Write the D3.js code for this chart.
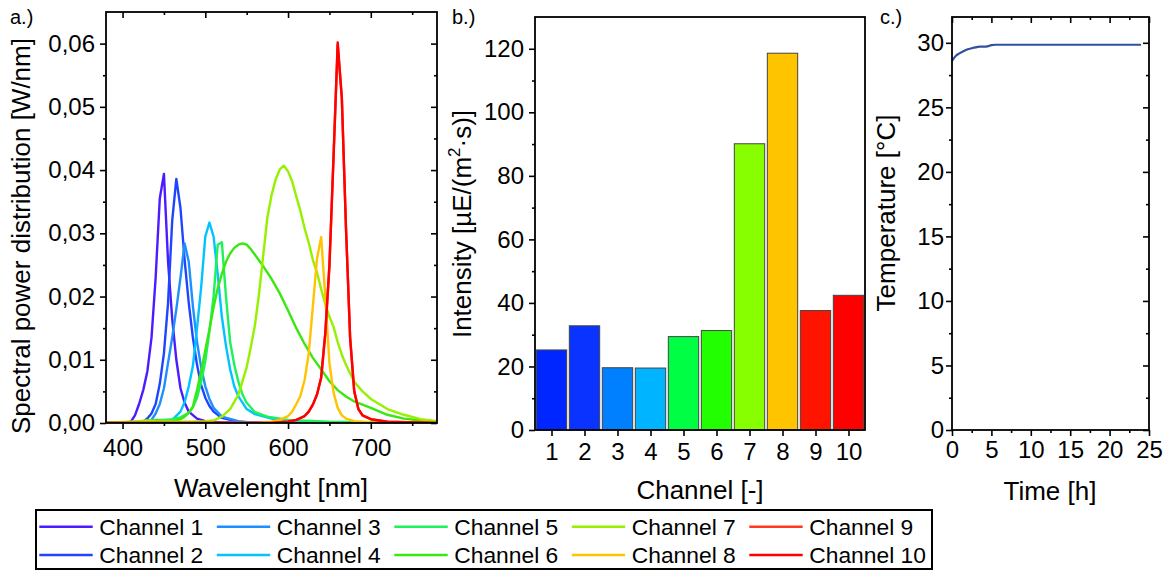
<!DOCTYPE html>
<html><head><meta charset="utf-8">
<script src="https://cdn.jsdelivr.net/npm/d3@7"></script>
<style>body{margin:0;background:#fff}</style>
</head><body><svg id="c" width="1171" height="572"></svg>
<script>
// ---------- DATA ----------
const channels = ["Channel 1","Channel 2","Channel 3","Channel 4","Channel 5","Channel 6","Channel 7","Channel 8","Channel 9","Channel 10"];
const lineColors = ["#4b1cff","#1f45ff","#1e8fff","#00c3ff","#1ef25a","#3ae810","#96f000","#ffc300","#ff3a1e","#ff0000"];
const barColors = ["#0026ff","#0a33ff","#0080ff","#00b4ff","#00ff44","#22ff00","#88ff00","#ffc400","#ff1400","#ff0000"];

// spectral power distribution [nm, W/nm]
const ch1Spd = [[380,0],[405,0],[410,0.0002],[415,0.0012],[420,0.003],[425,0.0052],[430,0.0082],[435,0.0135],[440,0.023],[445,0.0355],[450,0.0394],[455,0.0255],[460,0.0165],[465,0.01],[470,0.0055],[475,0.0032],[480,0.0018],[490,0.0007],[500,0.0003],[520,0.0001],[780,0]];
const ch2Spd = [[380,0],[420,0],[425,0.0002],[430,0.0007],[435,0.0015],[440,0.003],[445,0.0062],[450,0.011],[455,0.019],[460,0.032],[465,0.0386],[470,0.034],[475,0.0258],[480,0.019],[485,0.0135],[490,0.0092],[495,0.006],[500,0.004],[505,0.0027],[510,0.0018],[520,0.0008],[540,0.0002],[560,0],[780,0]];
const ch3Spd = [[380,0],[430,0],[435,0.0005],[440,0.0015],[445,0.003],[450,0.0055],[455,0.0095],[460,0.0135],[465,0.018],[470,0.023],[475,0.0284],[480,0.0255],[485,0.0185],[490,0.0128],[495,0.0088],[500,0.0058],[505,0.0038],[510,0.0024],[520,0.001],[540,0.0003],[560,0],[780,0]];
const ch4Spd = [[380,0],[450,0],[460,0.0005],[470,0.0018],[475,0.0033],[480,0.0058],[485,0.009],[490,0.015],[495,0.0215],[500,0.0295],[505,0.0317],[510,0.0295],[515,0.0235],[520,0.0168],[525,0.0122],[530,0.0085],[535,0.0058],[540,0.0042],[550,0.0022],[560,0.0014],[580,0.0007],[600,0.0003],[650,0],[780,0]];
const ch5Spd = [[380,0],[420,0],[430,0.0003],[440,0.0005],[450,0.0005],[460,0.0006],[470,0.0009],[480,0.0016],[485,0.0025],[490,0.004],[495,0.0065],[500,0.0098],[505,0.0145],[510,0.02],[515,0.0282],[520,0.0286],[525,0.02],[530,0.0128],[535,0.0092],[540,0.0065],[545,0.0045],[550,0.0032],[560,0.0017],[575,0.001],[600,0.0005],[650,0.0002],[780,0]];
const ch6Spd = [[380,0],[420,0.0002],[430,0.0004],[440,0.0004],[450,0.0003],[460,0.0003],[470,0.0006],[475,0.001],[480,0.0016],[485,0.0026],[490,0.0052],[495,0.0082],[500,0.0115],[505,0.0148],[510,0.0183],[515,0.0213],[520,0.0236],[525,0.0255],[530,0.0268],[535,0.0277],[540,0.0282],[545,0.0284],[550,0.0282],[555,0.0275],[560,0.0266],[570,0.0248],[580,0.0228],[590,0.0205],[600,0.0178],[610,0.015],[620,0.0125],[630,0.0103],[640,0.0085],[650,0.0066],[660,0.0052],[670,0.0042],[680,0.0034],[690,0.0029],[700,0.0024],[720,0.0013],[740,0.0007],[760,0.0004],[780,0.0002]];
const ch7Spd = [[380,0],[420,0.0003],[430,0.0004],[440,0.0003],[460,0.0002],[480,0.0002],[500,0.0003],[510,0.0004],[520,0.001],[530,0.0022],[540,0.0045],[550,0.0088],[555,0.012],[560,0.0155],[565,0.0205],[570,0.0265],[575,0.0325],[580,0.036],[585,0.0385],[590,0.0401],[595,0.0407],[600,0.0398],[605,0.0382],[610,0.0358],[615,0.0335],[620,0.0308],[625,0.0285],[630,0.0258],[635,0.0238],[640,0.0212],[645,0.0188],[650,0.0168],[655,0.0152],[660,0.0128],[665,0.0108],[670,0.0092],[680,0.0065],[690,0.005],[700,0.0038],[720,0.0022],[740,0.0013],[760,0.0006],[780,0.0003]];
const ch8Spd = [[380,0],[560,0],[580,0.0002],[590,0.0005],[600,0.0011],[605,0.0018],[610,0.003],[615,0.0043],[620,0.0068],[625,0.011],[630,0.0185],[635,0.026],[640,0.0294],[645,0.02],[650,0.0095],[655,0.0048],[660,0.0024],[665,0.0012],[670,0.0007],[680,0.0003],[700,0.0001],[780,0]];
const ch9Spd = [[380,0],[580,0],[600,0.0002],[610,0.0005],[620,0.0011],[625,0.0018],[630,0.0029],[635,0.0045],[640,0.0071],[645,0.0141],[650,0.0248],[655,0.0425],[660,0.0598],[665,0.0512],[670,0.0308],[675,0.0135],[680,0.005],[685,0.0022],[690,0.0012],[700,0.0006],[720,0.0002],[780,0]];
const ch10Spd = [[380,0],[580,0],[600,0.0002],[610,0.0005],[620,0.0011],[625,0.0018],[630,0.0029],[635,0.0045],[640,0.0072],[645,0.0142],[650,0.025],[655,0.042],[660,0.0602],[665,0.0515],[670,0.031],[675,0.0135],[680,0.005],[685,0.0022],[690,0.0012],[700,0.0006],[720,0.0002],[780,0]];
const spectra = [ch1Spd,ch2Spd,ch3Spd,ch4Spd,ch5Spd,ch6Spd,ch7Spd,ch8Spd,ch9Spd,ch10Spd];

// intensity per channel [µE/(m²·s)]
const channelNo = [1,2,3,4,5,6,7,8,9,10];
const intensity = [25.2,32.8,19.6,19.5,29.4,31.3,90.1,118.6,37.6,42.4];

// temperature over time
const timeH = [0,0.5,1,1.5,2,2.5,3,3.5,4,4.5,5,5.5,24];
const tempC = [28.6,29.0,29.2,29.37,29.5,29.58,29.65,29.7,29.7,29.73,29.82,29.85,29.85];

// ticks
const aXTicks=[400,500,600,700], aXMinor=[450,550,650,750];
const aYTicks=[0,0.01,0.02,0.03,0.04,0.05,0.06], aYMinor=[0.005,0.015,0.025,0.035,0.045,0.055];
const bYTicks=[0,20,40,60,80,100,120], bYMinor=[10,30,50,70,90,110];
const cXTicks=[0,5,10,15,20,25], cXMinor=[2.5,7.5,12.5,17.5,22.5];
const cYTicks=[0,5,10,15,20,25,30], cYMinor=[2.5,7.5,12.5,17.5,22.5,27.5];

// ---------- DRAW ----------
const F = '"Liberation Sans", Arial, sans-serif';
const svg = d3.select("#c");
svg.append("rect").attr("width",1171).attr("height",572).attr("fill","#fff");

function styleAxis(g){
  g.attr("font-family",F).attr("font-size",24);
  g.select(".domain").remove();
  g.selectAll("line").attr("stroke","#000").attr("stroke-width",1.6);
  g.selectAll("text").attr("fill","#000");
}
function put(tx,ty,gen){
  const g = svg.append("g").attr("transform",`translate(${tx},${ty})`).call(gen);
  styleAxis(g); return g;
}
function frame(x0,y0,x1,y1){
  svg.append("rect").attr("x",x0).attr("y",y0).attr("width",x1-x0).attr("height",y1-y0)
    .attr("fill","none").attr("stroke","#000").attr("stroke-width",1.8);
}
function text(x,y,s,size,anchor,rot){
  const t = svg.append("text").attr("font-family",F).attr("font-size",size).attr("fill","#000")
    .attr("text-anchor",anchor||"start");
  if(rot){ t.attr("transform",`translate(${x},${y}) rotate(-90)`); } else { t.attr("x",x).attr("y",y); }
  t.text(s); return t;
}

// Panel A
const A = {l:106,r:437,t:12,b:423};
const xA = d3.scaleLinear([380,780],[A.l,A.r]);
const yA = d3.scaleLinear([0,0.065],[A.b,A.t]);
svg.append("clipPath").attr("id","clipA").append("rect").attr("x",A.l).attr("y",A.t).attr("width",A.r-A.l).attr("height",A.b-A.t);
const line = d3.line().x(d=>xA(d[0])).y(d=>yA(d[1]));
const gL = svg.append("g").attr("clip-path","url(#clipA)");
spectra.forEach((s,i)=>{
  gL.append("path").attr("d",line(s)).attr("fill","none").attr("stroke",lineColors[i])
    .attr("stroke-width",2.4).attr("stroke-linejoin","round");
});
put(0,A.b,d3.axisBottom(xA).tickValues(aXTicks).tickSize(6).tickPadding(10));
put(0,A.b,d3.axisBottom(xA).tickValues(aXMinor).tickSize(3).tickFormat(""));
put(0,A.t,d3.axisTop(xA).tickValues(aXTicks).tickSize(-6).tickFormat(""));
put(0,A.t,d3.axisTop(xA).tickValues(aXMinor).tickSize(-3).tickFormat(""));
put(A.l,0,d3.axisLeft(yA).tickValues(aYTicks).tickSize(6).tickPadding(5).tickFormat(d=>d3.format(".2f")(d).replace(".",",")));
put(A.l,0,d3.axisLeft(yA).tickValues(aYMinor).tickSize(3).tickFormat(""));
put(A.r,0,d3.axisRight(yA).tickValues(aYTicks).tickSize(-6).tickFormat(""));
put(A.r,0,d3.axisRight(yA).tickValues(aYMinor).tickSize(-3).tickFormat(""));
frame(A.l,A.t,A.r,A.b);
text(271,497,"Wavelenght [nm]",26,"middle");
text(30,236,"Spectral power distribution [W/nm]",26,"middle",true);
text(10,24,"a.)",20);

// Panel B
const B = {l:535,r:865,t:17,b:430};
const xB = d3.scaleLinear([0.5,10.5],[B.l,B.r]);
const yB = d3.scaleLinear([0,130],[B.b,B.t]);
svg.append("g").selectAll("rect").data(intensity).join("rect")
  .attr("x",(d,i)=>xB(channelNo[i]-0.46)).attr("width",(d,i)=>xB(channelNo[i]+0.46)-xB(channelNo[i]-0.46))
  .attr("y",d=>yB(d)).attr("height",d=>yB(0)-yB(d))
  .attr("fill",(d,i)=>barColors[i]).attr("stroke","#444").attr("stroke-width",1);
put(0,B.b,d3.axisBottom(xB).tickValues(channelNo).tickSize(6).tickPadding(7).tickFormat(d3.format("d")));
put(B.l,0,d3.axisLeft(yB).tickValues(bYTicks).tickSize(6).tickPadding(5));
put(B.l,0,d3.axisLeft(yB).tickValues(bYMinor).tickSize(3).tickFormat(""));
frame(B.l,B.t,B.r,B.b);
text(700,499,"Channel [-]",26,"middle");
{
  const t = text(471,224,"",26,"middle",true);
  t.append("tspan").text("Intensity [µE/(m");
  t.append("tspan").attr("font-size",17).attr("dy",-11).text("2");
  t.append("tspan").attr("dy",11).text("·s)]");
}
text(452,24,"b.)",20);

// Panel C
const C = {l:952,r:1149,t:17,b:430};
const xC = d3.scaleLinear([0,25],[C.l,C.r]);
const yC = d3.scaleLinear([0,32],[C.b,C.t]);
svg.append("path").attr("d",d3.line().x((d,i)=>xC(timeH[i])).y(d=>yC(d)).curve(d3.curveMonotoneX)(tempC))
  .attr("fill","none").attr("stroke","#3050a0").attr("stroke-width",2.2);
put(0,C.b,d3.axisBottom(xC).tickValues(cXTicks).tickSize(6).tickPadding(5));
put(0,C.b,d3.axisBottom(xC).tickValues(cXMinor).tickSize(3).tickFormat(""));
put(0,C.t,d3.axisTop(xC).tickValues(cXTicks).tickSize(-6).tickFormat(""));
put(0,C.t,d3.axisTop(xC).tickValues(cXMinor).tickSize(-3).tickFormat(""));
put(C.l,0,d3.axisLeft(yC).tickValues(cYTicks).tickSize(6).tickPadding(2));
put(C.l,0,d3.axisLeft(yC).tickValues(cYMinor).tickSize(3).tickFormat(""));
put(C.r,0,d3.axisRight(yC).tickValues(cYTicks).tickSize(-6).tickFormat(""));
put(C.r,0,d3.axisRight(yC).tickValues(cYMinor).tickSize(-3).tickFormat(""));
frame(C.l,C.t,C.r,C.b);
text(1050,500,"Time [h]",26,"middle");
text(895,213,"Temperature [°C]",26,"middle",true);
text(880,24,"c.)",20);

// Legend
svg.append("rect").attr("x",36).attr("y",510).attr("width",896).attr("height",59)
  .attr("fill","#fff").attr("stroke","#000").attr("stroke-width",2);
const colX = [39.3,216.8,394.3,571.8,749.3], rowY=[526.7,555];
channels.forEach((c,i)=>{
  const x = colX[Math.floor(i/2)], y = rowY[i%2];
  svg.append("line").attr("x1",x).attr("x2",x+53.4).attr("y1",y).attr("y2",y)
    .attr("stroke",lineColors[i]).attr("stroke-width",2.4);
  text(x+60,y+8,c,22.8);
});
</script></body></html>
